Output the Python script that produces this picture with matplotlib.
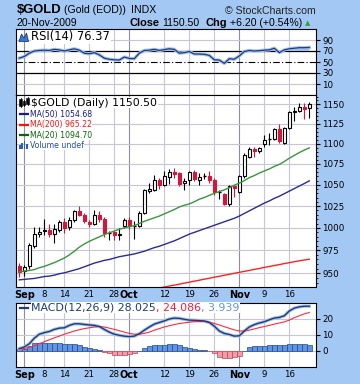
import os
import numpy as np
import pandas as pd
import matplotlib
matplotlib.use('Agg')
import matplotlib.pyplot as plt
from matplotlib.ticker import FixedLocator, FixedFormatter, NullFormatter
from matplotlib.patches import Rectangle, Polygon
from matplotlib.lines import Line2D
from matplotlib import font_manager as fm

plt.rcParams['savefig.bbox'] = 'standard'

# ---------------- data ----------------
dates = pd.bdate_range('2009-08-31', '2009-11-20')
dates = dates[dates != pd.Timestamp('2009-09-07')]

opens = [957.5, 952.0, 957.5, 979.5, 992.8, 996.0, 997.5, 993.5, 997.3, 1007.0,
         1001.5, 1008.8, 1019.0, 1015.3, 1006.5, 1005.0, 1015.3, 1009.6, 994.5, 995.0,
         992.0, 1002.0, 1008.8, 1002.5, 1002.7, 1017.6, 1042.5, 1044.2, 1056.0, 1050.1,
         1059.0, 1065.0, 1063.5, 1052.0, 1055.2, 1064.7, 1056.0, 1060.5, 1060.7, 1056.0,
         1041.0, 1039.0, 1027.5, 1048.0, 1042.0, 1060.7, 1084.0, 1093.0, 1090.3, 1099.7,
         1105.0, 1106.3, 1118.0, 1101.4, 1119.2, 1140.4, 1142.0, 1147.0, 1145.0]
highs = [961.0, 959.0, 983.0, 1000.5, 1001.0, 1010.0, 1004.0, 1004.0, 1009.0, 1011.0,
         1012.0, 1021.0, 1025.5, 1017.0, 1009.0, 1021.0, 1019.5, 1013.0, 997.0, 996.5,
         1000.0, 1011.7, 1012.0, 1007.5, 1019.0, 1045.0, 1052.0, 1062.0, 1058.0, 1066.0,
         1069.0, 1070.5, 1065.0, 1058.0, 1067.0, 1068.0, 1064.0, 1064.0, 1066.0, 1058.0,
         1044.0, 1040.0, 1050.0, 1049.5, 1062.0, 1088.0, 1096.0, 1096.0, 1096.0, 1110.8,
         1113.0, 1120.0, 1124.5, 1121.0, 1141.5, 1147.0, 1152.0, 1152.0, 1153.4]
lows = [946.0, 947.0, 955.0, 978.0, 990.0, 992.0, 990.0, 983.5, 995.0, 994.0,
        998.0, 1007.0, 1013.4, 1006.0, 1000.5, 1003.0, 1007.0, 990.0, 987.0, 986.5,
        987.0, 1000.0, 999.0, 988.0, 1001.0, 1016.0, 1040.0, 1043.0, 1044.5, 1048.0,
        1051.3, 1058.0, 1049.0, 1044.0, 1050.0, 1055.0, 1050.0, 1057.0, 1052.0, 1038.0,
        1033.0, 1026.0, 1025.0, 1036.0, 1040.0, 1058.0, 1082.0, 1084.0, 1088.0, 1096.0,
        1098.4, 1105.0, 1101.4, 1100.0, 1118.0, 1128.0, 1140.0, 1131.0, 1133.0]
closes = [951.7, 957.0, 980.6, 993.5, 995.8, 997.5, 993.5, 999.0, 1007.0, 999.4,
          1008.8, 1019.0, 1015.3, 1007.5, 1004.0, 1015.3, 1009.6, 994.6, 995.0, 992.0,
          993.5, 1008.8, 1002.7, 1003.0, 1017.6, 1043.3, 1045.0, 1055.2, 1050.1, 1060.0,
          1065.0, 1062.5, 1051.5, 1054.5, 1064.7, 1056.8, 1059.0, 1060.7, 1056.0, 1041.5,
          1041.8, 1027.5, 1049.0, 1046.5, 1060.7, 1086.1, 1093.0, 1090.3, 1094.8, 1104.6,
          1105.5, 1117.9, 1103.5, 1119.2, 1140.4, 1141.7, 1146.2, 1144.3, 1150.5]

ma20 = [951.5, 952.5, 953.0, 954.0, 956.0, 957.5, 959.5, 961.5, 964.0, 966.5,
        970.0, 974.0, 978.5, 982.0, 985.0, 987.5, 990.0, 992.5, 994.5, 996.5,
        998.5, 1000.0, 1001.5, 1002.5, 1005.0, 1007.5, 1009.5, 1011.5, 1013.5, 1016.0,
        1018.5, 1021.0, 1024.0, 1026.0, 1027.5, 1030.0, 1033.0, 1035.0, 1037.5, 1040.0,
        1042.0, 1044.0, 1046.5, 1049.5, 1052.0, 1055.0, 1058.5, 1061.0, 1064.0, 1066.5,
        1069.0, 1072.0, 1074.5, 1078.0, 1082.0, 1085.5, 1089.0, 1092.0, 1094.7]
ma50 = [943.0, 943.5, 944.0, 944.5, 945.5, 946.5, 947.0, 948.0, 949.5, 950.5,
        952.0, 953.5, 955.0, 957.0, 959.0, 961.0, 962.5, 964.0, 965.0, 966.5,
        968.0, 969.0, 970.0, 971.0, 972.5, 974.0, 976.0, 978.0, 979.5, 981.5,
        983.5, 985.5, 988.0, 990.5, 993.0, 995.0, 997.0, 999.0, 1001.0, 1003.0,
        1005.0, 1007.0, 1009.0, 1011.0, 1013.5, 1016.5, 1019.5, 1022.5, 1025.5, 1028.5,
        1031.0, 1034.0, 1036.5, 1039.5, 1042.5, 1045.5, 1048.5, 1051.5, 1054.7]
ma200 = [905.0, 906.0, 907.1, 908.1, 909.2, 910.2, 911.3, 912.3, 913.4, 914.4,
         915.5, 916.5, 917.6, 918.6, 919.7, 920.7, 921.8, 922.8, 923.9, 924.9,
         926.0, 927.0, 928.1, 929.1, 930.2, 931.2, 932.3, 933.3, 934.4, 935.4,
         936.4, 937.4, 938.4, 939.5, 940.5, 941.6, 942.6, 943.7, 944.7, 945.8,
         946.8, 947.9, 948.9, 950.0, 951.0, 952.1, 953.1, 954.2, 955.2, 956.3,
         957.3, 958.4, 959.4, 960.5, 961.5, 962.5, 963.5, 964.4, 965.2]

rsi = [57, 60, 66, 70, 71, 71.5, 71, 73, 72, 70,
       72, 74, 71.5, 66, 65, 67, 63, 57, 55, 54,
       53.5, 59, 56.5, 56, 66, 71, 71.5, 73, 71, 72.5,
       74, 73, 66, 67, 69, 64.5, 64.5, 64, 62, 54,
       53.5, 47.5, 56, 55, 61, 69, 71, 70, 70.5, 71.5,
       72, 75, 67, 72, 74, 75, 76, 76, 76.4]

macd = [1.5, 2.5, 4.5, 8.0, 10.5, 11.5, 12.2, 13.5, 14.3, 14.5,
        16.0, 17.0, 17.0, 16.6, 16.3, 16.0, 15.3, 13.5, 11.8, 10.5,
        9.8, 9.3, 9.0, 9.3, 10.8, 13.0, 15.0, 16.8, 17.8, 18.8,
        20.0, 20.6, 20.4, 19.8, 19.3, 19.2, 19.0, 18.8, 17.8, 15.5,
        12.5, 11.0, 10.3, 9.3, 9.5, 12.5, 15.0, 16.5, 17.5, 18.3,
        19.5, 20.6, 21.0, 22.0, 25.0, 26.8, 27.6, 28.0, 28.0]
signal = [1.2, 1.6, 2.3, 3.3, 4.6, 5.8, 7.0, 8.2, 9.3, 10.5,
          11.5, 12.5, 13.3, 14.0, 14.5, 15.0, 15.3, 15.0, 14.3, 13.5,
          12.7, 11.8, 11.0, 10.5, 10.5, 11.0, 11.8, 13.0, 14.0, 15.0,
          15.8, 16.5, 17.2, 17.6, 18.0, 18.3, 18.4, 18.4, 18.0, 17.2,
          16.3, 15.2, 14.2, 13.2, 12.5, 12.5, 13.0, 13.8, 14.6, 15.3,
          16.0, 16.8, 17.5, 18.2, 19.3, 20.8, 22.0, 23.2, 24.1]
hist = [1.2, 1.5, 3.0, 4.7, 5.3, 5.3, 5.2, 5.3, 5.0, 4.6,
        4.5, 4.5, 3.7, 2.6, 1.8, 1.0, 0.4, -0.5, -1.5, -2.3,
        -2.6, -2.5, -2.0, -1.2, 0.3, 2.0, 3.2, 3.8, 3.8, 4.0,
        4.3, 4.3, 3.5, 2.4, 1.6, 1.2, 0.8, 0.4, -0.3, -1.5,
        -3.5, -4.5, -4.2, -3.8, -3.0, 0.2, 2.2, 2.9, 3.2, 3.2,
        3.6, 4.0, 3.6, 3.6, 4.2, 4.6, 4.5, 4.1, 3.9]

tick_dates = ['2009-09-01', '2009-09-08', '2009-09-14', '2009-09-21', '2009-09-28',
              '2009-10-01', '2009-10-12', '2009-10-19', '2009-10-26',
              '2009-11-02', '2009-11-09', '2009-11-16']
tick_labels = ['Sep', '8', '14', '21', '28', 'Oct', '12', '19', '26', 'Nov', '9', '16']
month_labels = ['Sep', 'Oct', 'Nov']
price_ticks = [950, 975, 1000, 1025, 1050, 1075, 1100, 1125, 1150]
rsi_ticks = [10, 30, 50, 70, 90]
macd_ticks = [0, 10, 20]

# ---------------- style ----------------
W, H = 360, 384
BG = '#a4c8f4'
RED = '#d4163c'
GRID = '#c6c6d8'
MGRID = '#8e8e9e'

fig = plt.figure(figsize=(W / 100, H / 100), dpi=100)
fig.patch.set_facecolor(BG)
renderer = fig.canvas.get_renderer()


def fx(px):
    return px / W


def fy(py):
    return 1 - py / H


ax_r = fig.add_axes([fx(16), fy(95), 300 / W, 66 / H])
ax = fig.add_axes([fx(16), fy(287), 300 / W, 192 / H])
ax_m = fig.add_axes([fx(16), fy(367), 300 / W, 64 / H])

x = np.arange(len(dates))
o = np.array(opens); h = np.array(highs); l = np.array(lows); c = np.array(closes)
tick_pos = dates.get_indexer(pd.to_datetime(tick_dates))
XL = (-0.66, len(dates) + 0.34)


def base(a):
    a.set_facecolor('white')
    a.set_xlim(*XL)
    for s in a.spines.values():
        s.set_linewidth(0.8)
        s.set_color('black')
    for p, lab in zip(tick_pos, tick_labels):
        a.axvline(p, color=MGRID if lab in month_labels else GRID, lw=0.8, zorder=0.5)
    a.set_xticks(tick_pos)
    a.yaxis.tick_right()
    a.tick_params(axis='y', which='major', length=3, width=0.8, labelsize=6.3, pad=1.5)
    a.tick_params(axis='x', length=0)


def date_labels(a):
    a.set_xticklabels(tick_labels)
    a.tick_params(axis='x', labelsize=6.2, pad=2.2)
    for t in a.get_xticklabels():
        if t.get_text() in month_labels:
            t.set_fontweight('bold')
            t.set_fontsize(7)


# ---------- main price panel ----------
base(ax)
ax.set_yscale('log')
ax.set_ylim(935.4, 1162.2)
ax.yaxis.set_major_locator(FixedLocator(price_ticks))
ax.yaxis.set_major_formatter(FixedFormatter([str(t) for t in price_ticks]))
ax.yaxis.set_minor_locator(FixedLocator(list(range(940, 1165, 5))))
ax.yaxis.set_minor_formatter(NullFormatter())
ax.tick_params(axis='y', which='minor', length=1.5, width=0.6)
for t in price_ticks:
    ax.axhline(t, color=GRID, lw=0.8, zorder=0.5)
date_labels(ax)

prev = np.r_[np.inf, c[:-1]]
cols = [RED if c[i] < prev[i] else 'black' for i in range(len(x))]
ax.vlines(x, l, h, colors=cols, lw=0.8, zorder=3)
bw = 0.66
for i in range(len(x)):
    if abs(c[i] - o[i]) < 1.0:
        ax.hlines((o[i] + c[i]) / 2, x[i] - bw / 2, x[i] + bw / 2, colors=cols[i], lw=1.0, zorder=3.2)
    elif c[i] >= o[i]:
        ax.add_patch(Rectangle((x[i] - bw / 2, o[i]), bw, c[i] - o[i], facecolor='white',
                               edgecolor=cols[i], lw=0.8, zorder=3.1))
    else:
        ax.add_patch(Rectangle((x[i] - bw / 2, c[i]), bw, o[i] - c[i], facecolor=cols[i],
                               edgecolor=cols[i], lw=0.8, zorder=3.1))

ax.plot(x, ma200, color='#ff2020', lw=1.0, zorder=4)
ax.plot(x, ma50, color='#2a2a9a', lw=1.0, zorder=4)
ax.plot(x, ma20, color='#3a963a', lw=1.0, zorder=4)

# ---------- RSI panel ----------
base(ax_r)
ax_r.set_ylim(-10, 110)
ax_r.set_yticks(rsi_ticks)
ax_r.set_xticklabels([])
for t in (90, 10):
    ax_r.axhline(t, color=GRID, lw=0.8, zorder=0.5)
ax_r.axhline(70, color='black', lw=0.9, zorder=1)
ax_r.axhline(30, color='black', lw=0.9, zorder=1)
ax_r.axhline(50, color='black', lw=0.8, ls=(0, (6, 2, 1, 2)), zorder=1)
rs = np.array(rsi, dtype=float)
ax_r.fill_between(x, rs, 70, where=rs > 70, interpolate=True, color='#9dbdec', lw=0, zorder=1.5)
ax_r.plot(x, rs, color='#a6c2ea', lw=2.4, zorder=2)
ax_r.plot(x, rs, color='#1d3d80', lw=0.9, zorder=3)

# ---------- MACD panel ----------
base(ax_m)
ax_m.set_ylim(-10, 30)
ax_m.set_yticks(macd_ticks)
for t in macd_ticks:
    ax_m.axhline(t, color=GRID, lw=0.8, zorder=0.5)
hs = np.array(hist)
ax_m.bar(x, hs, width=1.0, color=['#5f95e2' if v >= 0 else '#f29aa6' for v in hs],
         edgecolor=['#26478e' if v >= 0 else '#b8485a' for v in hs], lw=0.5, zorder=2)
ax_m.plot(x, macd, color='#a6c2ea', lw=2.4, zorder=3)
ax_m.plot(x, macd, color='#1e3c7a', lw=1.0, zorder=3.5)
ax_m.plot(x, signal, color='#ff2a3c', lw=0.8, zorder=3.4)
date_labels(ax_m)


# ---------- texts ----------
def chain(x_px, y_px, parts, **common):
    cur = x_px
    for s, kw in parts:
        kk = dict(common)
        kk.update(kw)
        gap = kk.pop('gap', 0)
        cur += gap
        t = fig.text(cur / W, fy(y_px), s, va='center', ha='left', **kk)
        bb = t.get_window_extent(renderer=renderer)
        cur = bb.x1
    return cur


HF = 'Liberation Sans'
chain(16.5, 10.3, [('$GOLD', dict(fontweight='bold', fontsize=9.4)),
                   ('(Gold (EOD))', dict(fontsize=7.6, gap=3)),
                   ('INDX', dict(fontsize=7.6, gap=5))], family=HF, color='black')
fig.text(fx(316), fy(10.5), '\u00a9 StockCharts.com', ha='right', va='center',
         family=HF, fontsize=7.6, color='#222222')
chain(16.5, 23.5, [('20-Nov-2009', dict(fontsize=7.6))], family=HF, color='black')
chain(129, 23.5, [('Close', dict(fontweight='bold', fontsize=7.9)),
                  ('1150.50', dict(fontsize=7.6, gap=3)),
                  ('Chg', dict(fontweight='bold', fontsize=7.9, gap=6)),
                  ('+6.20 (+0.54%)', dict(fontsize=7.6, gap=3)),
                  ('\u25b2', dict(fontsize=5, family='DejaVu Sans', color='#2f9e3f', gap=3))],
      family=HF, color='black')

box = dict(facecolor='white', edgecolor='none', pad=0.4)

# RSI legend
fig.add_artist(Polygon([(fx(19), fy(41.5)), (fx(21.5), fy(34)), (fx(24), fy(38)),
                        (fx(26.5), fy(33)), (fx(28.5), fy(41.5))], closed=True,
                       transform=fig.transFigure, facecolor='#3d78cc', edgecolor='#1d3d80', lw=0.6))
chain(31.5, 36.8, [('RSI(14) 76.37', {})], family='DejaVu Sans', fontsize=8.3, color='black', bbox=box)

# main legend
for xx, yy0, yy1 in [(20.5, 99, 106), (24.0, 100.5, 105), (27.5, 98, 104)]:
    fig.add_artist(Line2D([fx(xx), fx(xx)], [fy(yy1 + 1), fy(yy0 - 1)], transform=fig.transFigure,
                          color='black', lw=0.6))
    fig.add_artist(Rectangle((fx(xx - 1.2), fy(yy1)), 2.4 / W, (yy1 - yy0) / H, transform=fig.transFigure,
                             facecolor='black', edgecolor='black', lw=0.4))
chain(31.5, 102.5, [('$GOLD (Daily) 1150.50', {})], family='DejaVu Sans', fontsize=7.8,
      color='black', bbox=box)

narrow = None
for f in fm.fontManager.ttflist:
    if os.path.basename(f.fname) in ('LiberationSansNarrow-Regular.ttf', 'DejaVuSansCondensed.ttf'):
        narrow = f.fname
        if 'Liberation' in narrow:
            break
if narrow and 'Liberation' in narrow:
    nfont = dict(fontproperties=fm.FontProperties(fname=narrow, size=7.2))
elif narrow:
    nfont = dict(fontproperties=fm.FontProperties(fname=narrow, size=6.2))
else:
    nfont = dict(family='Liberation Sans', fontsize=6.0)

rows = [('MA(50) 1054.68', '#1a1a8a', 114.0),
        ('MA(200) 965.22', '#ff1010', 124.6),
        ('MA(20) 1094.70', '#0a640a', 135.4)]
for txt, col, yy in rows:
    fig.add_artist(Line2D([fx(20), fx(28)], [fy(yy), fy(yy)], transform=fig.transFigure,
                          color=col, lw=1.6))
    chain(29.5, yy, [(txt, {})], color=col, bbox=box, **nfont)
for k, (bx, bh) in enumerate([(18.5, 4), (21.0, 6), (23.5, 8), (26.0, 5)]):
    fig.add_artist(Rectangle((fx(bx), fy(149)), 2.0 / W, bh / H, transform=fig.transFigure,
                             facecolor='#2d5fae', edgecolor='none'))
chain(29.5, 145.3, [('Volume undef', {})], color='#1f4f9e', bbox=box, **nfont)

# MACD legend
fig.add_artist(Line2D([fx(20), fx(28)], [fy(307.5), fy(307.5)], transform=fig.transFigure,
                      color='#1e3c7a', lw=1.6))
chain(31.5, 307.5, [('MACD(12,26,9) 28.025', dict(color='#1e3c7a')),
                    (', 24.086', dict(color='#ff1a3a')),
                    (', 3.939', dict(color='#5c9ae0'))],
      family='DejaVu Sans', fontsize=7.9, bbox=box)

fig.savefig('out.png', dpi=100, facecolor=BG)
